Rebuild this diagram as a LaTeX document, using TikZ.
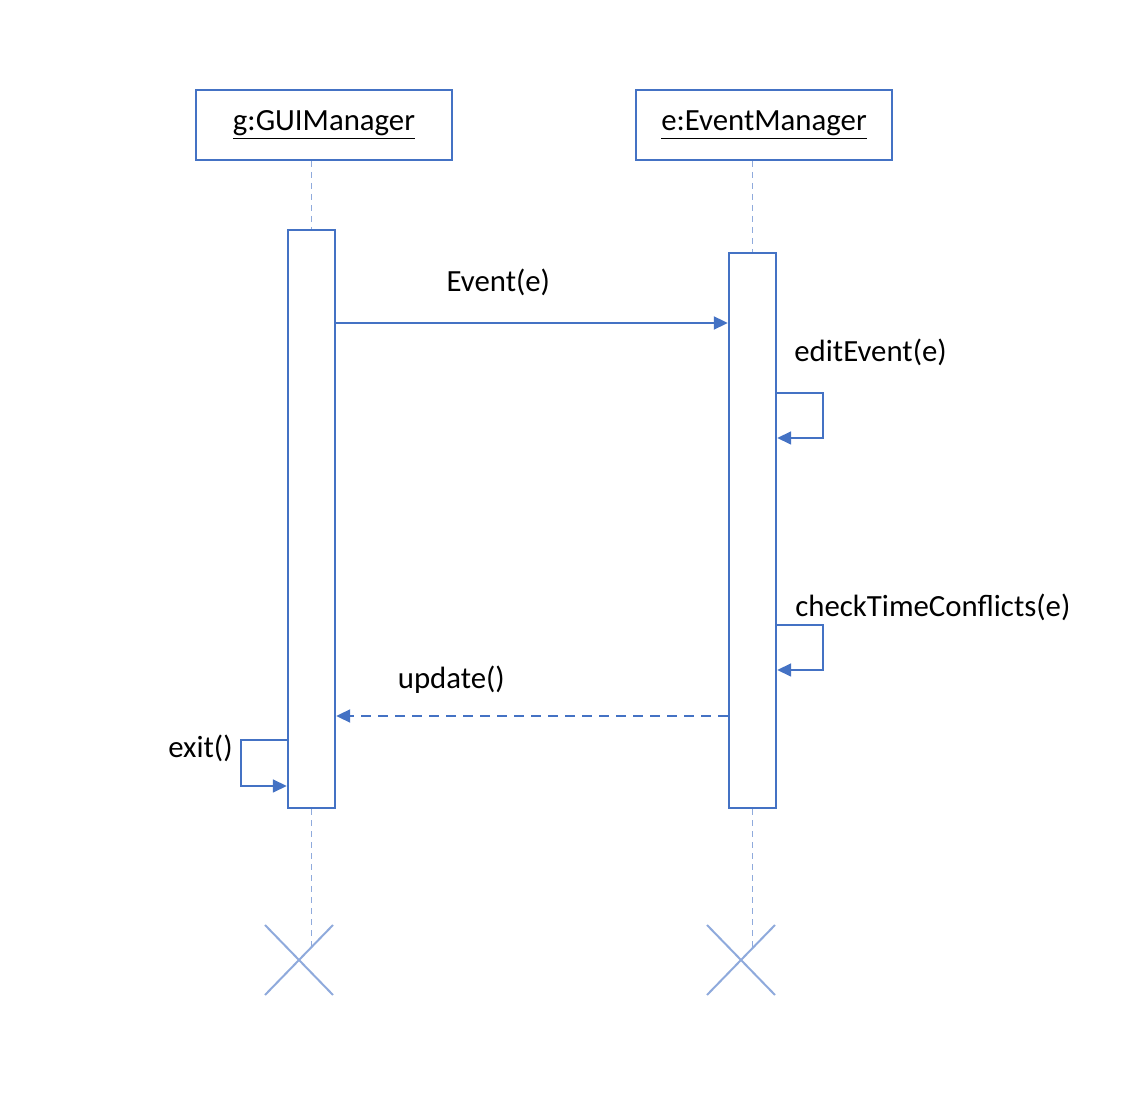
\documentclass[tikz,border=0pt]{standalone}
\usepackage{fontspec}
\setmainfont{Carlito}
\usetikzlibrary{positioning}
\usetikzlibrary{arrows.meta}
\definecolor{umlblue}{HTML}{4472C4}
\definecolor{umllight}{HTML}{8FAADC}

\begin{document}
\begin{tikzpicture}[x=0.5pt,y=-0.5pt,
    object/.style={draw=umlblue, line width=1pt, minimum width=128pt, minimum height=35pt, inner sep=0pt, font=\fontsize{15.4}{18}\selectfont},
    activation/.style={draw=umlblue, line width=1.2pt, minimum width=23.5pt, inner sep=0pt, fill=white},
    lifeline/.style={umllight, line width=0.6pt, dash pattern=on 3pt off 2.5pt},
    msg/.style={umlblue, line width=1pt, -{Triangle[length=7pt,width=6.5pt]}},
    selfmsg/.style={umlblue, line width=0.8pt, -{Triangle[length=7pt,width=6.5pt]}},
    destroy/.style={umllight, line width=1pt},
    msgtext/.style={inner sep=0pt, text=black, font=\fontsize{15.4}{18}\selectfont}
]
\useasboundingbox (0,0) rectangle (1148,1106);

% Objects
\node[object] (gui) at (324,125) {\underline{g:GUIManager}};
\node[object, right=91pt of gui] (evm) {\underline{e:EventManager}};

% Activation bars
\node[activation, minimum height=289pt] (guiact) at (311.5,519) {};
\node[activation, minimum height=277.5pt] (evmact) at (752.5,530.5) {};

% Lifelines
\coordinate (guiend) at (311.5,950);
\coordinate (evmend) at (752.5,950);
\draw[lifeline] (guiact.north |- gui.south) -- (guiact.north);
\draw[lifeline] (guiact.south) -- (guiend);
\draw[lifeline] (evmact.north |- evm.south) -- (evmact.north);
\draw[lifeline] (evmact.south) -- (evmend);

% Event(e)
\draw[msg] (guiact.east |- 0,323) -- (evmact.west |- 0,323)
    node[pos=0.414, above=13pt, msgtext] (eventlbl) {Event(e)};

% editEvent(e)
\node[msgtext, anchor=west] (editlbl) at (794,352) {editEvent(e)};
\draw[selfmsg] (evmact.east |- 0,393) -- ++(46,0) -- ++(0,45) -- (evmact.east |- 0,438);

% checkTimeConflicts(e)
\node[msgtext, anchor=west] (checklbl) at (795,607) {checkTimeConflicts(e)};
\draw[selfmsg] (evmact.east |- 0,625) -- ++(46,0) -- ++(0,45) -- (evmact.east |- 0,670);

% update()
\draw[msg, dash pattern=on 5pt off 3.5pt] (evmact.west |- 0,716) -- (guiact.east |- 0,716)
    node[pos=0.706, above=11pt, msgtext] (updatelbl) {update()};

% exit()
\node[msgtext, anchor=east] (exitlbl) at (233,748) {exit()};
\draw[selfmsg] (guiact.west |- 0,740) -- ++(-46,0) -- ++(0,46) -- (guiact.west |- 0,786);

% Destruction
\draw[destroy] (265,925) -- (333,995) (265,995) -- (333,925);
\draw[destroy] (707,925) -- (775,995) (707,995) -- (775,925);

\end{tikzpicture}
\end{document}
